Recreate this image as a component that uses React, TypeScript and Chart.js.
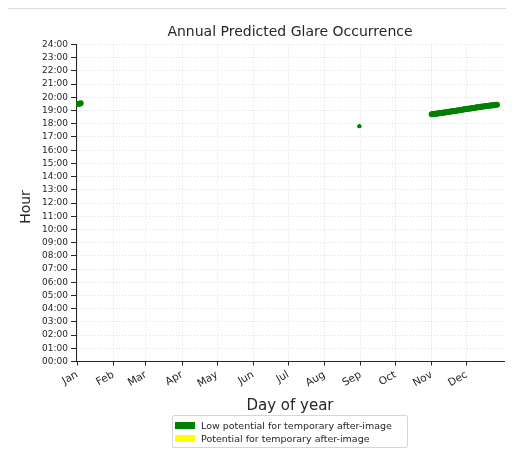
import React, { useEffect, useRef } from "react";
import { Chart, registerables } from "chart.js";

Chart.register(...registerables);

const monthLabels = ["Jan", "Feb", "Mar", "Apr", "May", "Jun", "Jul", "Aug", "Sep", "Oct", "Nov", "Dec"];
const monthStartDays = [1, 32, 60, 91, 121, 152, 182, 213, 244, 274, 305, 335];
const hourTicks = Array.from({ length: 25 }, (_, i) => i);

// Low potential for temporary after-image (day of year, hour)
const lowDays = [
  2, 3, 4, 243,
  305, 306, 307, 308, 309, 310, 311, 312, 313, 314, 315, 316, 317, 318, 319, 320,
  321, 322, 323, 324, 325, 326, 327, 328, 329, 330, 331, 332, 333, 334, 335, 336,
  337, 338, 339, 340, 341, 342, 343, 344, 345, 346, 347, 348, 349, 350, 351, 352,
  353, 354, 355, 356, 357, 358, 359, 360, 361,
];
const lowHours = [
  19.5, 19.52, 19.55, 17.82,
  18.72, 18.73, 18.74, 18.75, 18.76, 18.78, 18.79, 18.8, 18.81, 18.83, 18.84, 18.85, 18.87, 18.88, 18.89, 18.91,
  18.92, 18.93, 18.95, 18.96, 18.97, 18.99, 19.0, 19.02, 19.03, 19.05, 19.06, 19.07, 19.09, 19.1, 19.12, 19.13,
  19.14, 19.16, 19.17, 19.19, 19.2, 19.21, 19.23, 19.24, 19.25, 19.27, 19.28, 19.29, 19.31, 19.32, 19.33, 19.34,
  19.35, 19.37, 19.38, 19.39, 19.4, 19.41, 19.42, 19.43, 19.44,
];
// Potential for temporary after-image (none)
const potDays: number[] = [];
const potHours: number[] = [];

const seriesNames = ["Low potential for temporary after-image", "Potential for temporary after-image"];
const seriesColors = ["#008000", "#ffff00"];

const FONT = "'DejaVu Sans', sans-serif";
const TEXT = "#262626";

const textPlugin = {
  id: "texts",
  afterDraw(chart: any) {
    const { ctx, chartArea } = chart;
    const cx = (chartArea.left + chartArea.right) / 2;
    ctx.save();
    ctx.fillStyle = TEXT;
    ctx.textAlign = "center";
    ctx.textBaseline = "middle";
    ctx.font = `14px ${FONT}`;
    ctx.fillText("Annual Predicted Glare Occurrence", cx, 32);
    ctx.font = `15px ${FONT}`;
    ctx.fillText("Day of year", cx, 406);
    ctx.translate(26, 207);
    ctx.rotate(-Math.PI / 2);
    ctx.font = `14px ${FONT}`;
    ctx.fillText("Hour", 0, 0);
    ctx.restore();
  },
};

export default function App() {
  const ref = useRef<HTMLCanvasElement>(null);
  useEffect(() => {
    if (!ref.current) return;
    const gridStyle = {
      color: "rgba(0,0,0,0.13)",
      tickColor: TEXT,
      tickBorderDash: [],
    };
    const chart = new Chart(ref.current, {
      type: "scatter",
      data: {
        datasets: [
          {
            label: seriesNames[0],
            data: lowDays.map((d, i) => ({ x: d, y: lowHours[i] })),
            backgroundColor: seriesColors[0],
            borderWidth: 0,
            pointRadius: (c: any) => (lowDays[c.dataIndex] === 243 ? 2.2 : 3),
          },
          {
            label: seriesNames[1],
            data: potDays.map((d, i) => ({ x: d, y: potHours[i] })),
            backgroundColor: seriesColors[1],
            borderWidth: 0,
            pointRadius: 3,
          },
        ],
      },
      options: {
        animation: false,
        responsive: false,
        layout: { padding: { top: 44.5, right: 10, bottom: 60.5, left: 0 } },
        plugins: { legend: { display: false }, title: { display: false }, tooltip: { enabled: false } },
        scales: {
          x: {
            type: "linear",
            min: 0,
            max: 367,
            afterBuildTicks: (s: any) => {
              s.ticks = monthStartDays.map((v) => ({ value: v }));
            },
            afterFit: (s: any) => {
              s.height = 40;
            },
            ticks: {
              callback: (v: any) => monthLabels[monthStartDays.indexOf(Number(v))] ?? "",
              minRotation: 30,
              maxRotation: 30,
              autoSkip: false,
              color: TEXT,
              font: { family: FONT, size: 10.5 },
              padding: 3,
            },
            grid: { ...gridStyle, tickLength: 4 } as any,
            border: { display: true, color: TEXT, width: 1, dash: [1, 2] },
          },
          y: {
            min: 0,
            max: 24,
            afterBuildTicks: (s: any) => {
              s.ticks = hourTicks.map((v) => ({ value: v }));
            },
            afterFit: (s: any) => {
              s.width = 76;
            },
            ticks: {
              callback: (v: any) => `${String(v).padStart(2, "0")}:00`,
              color: TEXT,
              font: { family: FONT, size: 9 },
              padding: 3,
              autoSkip: false,
            },
            grid: { ...gridStyle, tickLength: 5 } as any,
            border: { display: true, color: TEXT, width: 1, dash: [1, 2] },
          },
        },
      } as any,
      plugins: [textPlugin],
    });
    return () => chart.destroy();
  }, []);

  return (
    <div style={{ position: "relative", width: 514, height: 462, margin: -8, overflow: "hidden", background: "#fff" }}>
      <div
        style={{
          position: "absolute",
          left: 2,
          top: 7,
          width: 600,
          height: 600,
          border: "2px solid #dcdcdc",
          borderRadius: 6,
          boxSizing: "border-box",
        }}
      />
      <canvas ref={ref} width={514} height={462} style={{ position: "absolute", left: 0, top: 0 }} />
      <div
        style={{
          position: "absolute",
          left: 172,
          top: 415,
          width: 236,
          height: 33,
          border: "1px solid #d6d6d6",
          borderRadius: 2,
          boxSizing: "border-box",
          fontFamily: FONT,
          fontSize: 9.5,
          color: TEXT,
          padding: "3px 0 0 2px",
        }}
      >
        {seriesNames.map((name, i) => (
          <div key={name} style={{ display: "flex", alignItems: "center", height: 13, whiteSpace: "nowrap" }}>
            <span style={{ display: "inline-block", width: 20, height: 7, background: seriesColors[i], marginRight: 6 }} />
            <span>{name}</span>
          </div>
        ))}
      </div>
    </div>
  );
}
